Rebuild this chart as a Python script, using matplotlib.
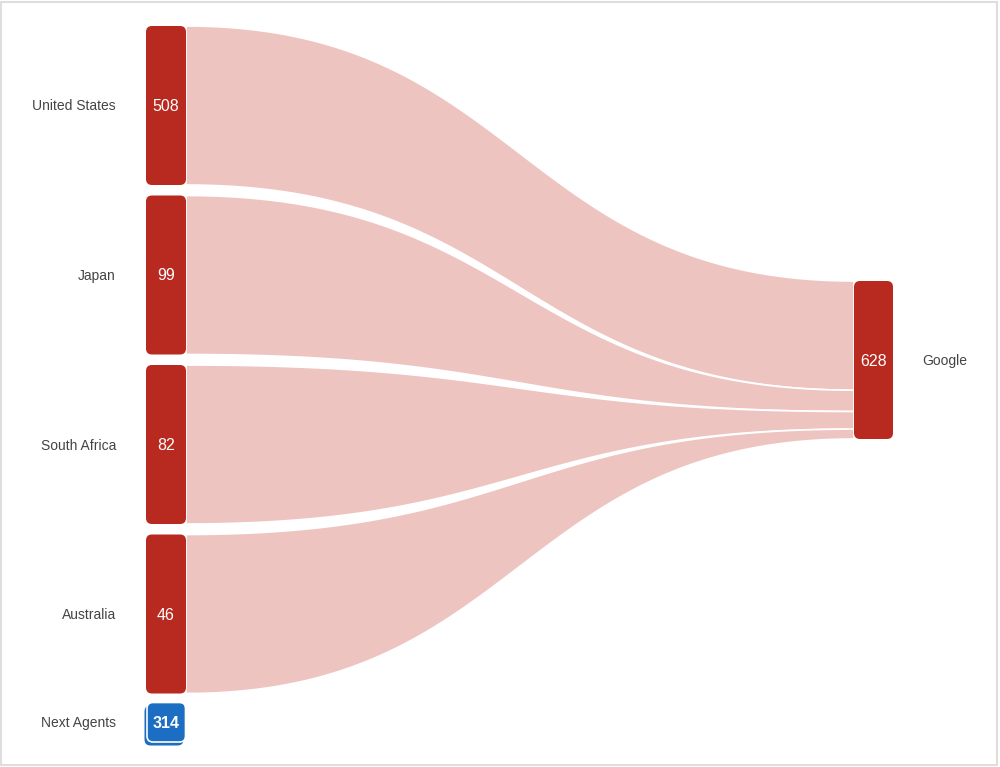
import numpy as np
import matplotlib
matplotlib.use("Agg")
import matplotlib.pyplot as plt
from matplotlib.patches import FancyBboxPatch, Polygon, Rectangle

plt.rcParams['font.family'] = ['Liberation Sans', 'DejaVu Sans']

# данные
sources = ["United States", "Japan", "South Africa", "Australia"]
source_values = [508, 99, 82, 46]
target = "Google"
target_value = 628
extra_node = "Next Agents"
extra_value = 314

RED = "#b8291f"
FLOW = "#eec4c1"
BLUE = "#1b6ec2"
TEXT = "#444444"

W, H = 1000, 767
fig = plt.figure(figsize=(10, 7.67), dpi=100)
ax = fig.add_axes([0, 0, 1, 1])
ax.set_xlim(0, W)
ax.set_ylim(H, 0)
ax.axis("off")

# рамка вокруг картинки
fig.patches.append(Rectangle((0.001, 0.002), 0.996, 0.996, transform=fig.transFigure,
                             fill=False, edgecolor="#dedede", linewidth=1.5))

# геометрия узлов
left_x, node_w = 146, 40
right_x = 854
node_h = 159
top0, pitch = 26, 169.5
tgt_top, tgt_h = 281, 158


def rounded(x, y, w, h, color, **kw):
    p = FancyBboxPatch((x, y), w, h, boxstyle="round,pad=0,rounding_size=6",
                       facecolor=color, edgecolor=kw.pop("edgecolor", "none"),
                       mutation_aspect=1, **kw)
    ax.add_patch(p)
    return p


def bezier(y0, y1, x0, x1, n=100):
    t = np.linspace(0, 1, n)
    xm = (x0 + x1) / 2
    xs = (1 - t) ** 3 * x0 + 3 * (1 - t) ** 2 * t * xm + 3 * (1 - t) * t ** 2 * xm + t ** 3 * x1
    ys = (1 - t) ** 3 * y0 + 3 * (1 - t) ** 2 * t * y0 + 3 * (1 - t) * t ** 2 * y1 + t ** 3 * y1
    return xs, ys


total = sum(source_values)
cur = tgt_top
for i, (name, v) in enumerate(zip(sources, source_values)):
    top = top0 + i * pitch
    bot = top + node_h
    fw = v / total * tgt_h
    rt, rb = cur, cur + fw
    cur = rb
    x0, x1 = left_x + node_w, right_x
    xt, yt = bezier(top, rt, x0, x1)
    xb, yb = bezier(bot, rb, x0, x1)
    pts = np.column_stack([np.r_[xt, xb[::-1]], np.r_[yt, yb[::-1]]])
    ax.add_patch(Polygon(pts, closed=True, facecolor=FLOW, edgecolor="white", linewidth=1.2, zorder=1))
    rounded(left_x, top, node_w, node_h, RED, zorder=3)
    ax.text(left_x + node_w / 2, top + node_h / 2 + 1, str(v), color="white", fontsize=11.5,
            ha="center", va="center", zorder=4)
    ax.text(116, top + node_h / 2 + 1, name, color=TEXT, fontsize=10, ha="right", va="center")

# узел Google
rounded(right_x, tgt_top, node_w - 1, tgt_h, RED, zorder=3)
ax.text(right_x + (node_w - 1) / 2, tgt_top + tgt_h / 2 + 1, str(target_value), color="white",
        fontsize=11.5, ha="center", va="center", zorder=4)
ax.text(922, tgt_top + tgt_h / 2 + 1, target, color=TEXT, fontsize=10, ha="left", va="center")

# узел Next Agents (с "тенью")
ex_top = top0 + 4 * pitch - 1.5
rounded(left_x - 1.5, ex_top + 3, node_w - 1, 40, BLUE, zorder=3)
rounded(left_x + 1, ex_top, node_w - 1.5, 39.5, BLUE, edgecolor="white", linewidth=1.2, zorder=4)
ax.text(left_x + node_w / 2, ex_top + 20.5, str(extra_value), color="white", fontsize=11.5,
        fontweight="bold", ha="center", va="center", zorder=5)
ax.text(116, ex_top + 21, extra_node, color=TEXT, fontsize=10, ha="right", va="center")

fig.savefig("out.png", dpi=100, facecolor="white")
